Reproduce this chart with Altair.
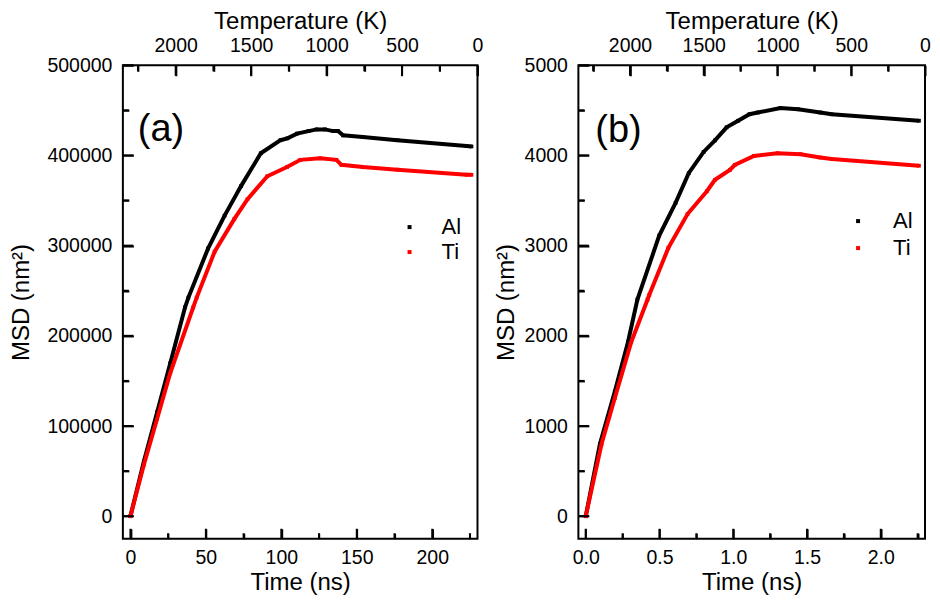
import altair as alt
import pandas as pd

FONT = "Liberation Sans"

# ---------------- data ----------------
# panel (a): time in ns, MSD in nm^2
a_al_t = [0, 8.9, 17.7, 26.4, 36.2, 38.4, 51.5, 62.4, 73.3, 86.4, 99.5, 104.0, 110.4,
          118.0, 123.4, 128.9, 134.4, 137.6, 140.9, 154.0, 176.9, 222.7, 226.0]
a_al_v = [0, 60600, 115200, 169700, 231700, 242400, 297000, 333300, 366000, 402400,
          416900, 419000, 424200, 427000, 428900, 428900, 427000, 427000, 422300,
          420500, 416900, 410400, 410000]
a_ti_t = [0, 8.9, 17.7, 26.4, 41.6, 43.9, 55.8, 68.9, 77.6, 90.7, 103.8, 112.6, 125.7,
          136.5, 139.8, 154.0, 176.9, 222.7, 226.0]
a_ti_v = [0, 57000, 108000, 158800, 231500, 242400, 293300, 329700, 351500, 376900,
          387100, 395100, 396900, 395100, 389600, 387100, 384200, 378700, 378500]

# panel (b)
b_al_t = [0, 0.096, 0.197, 0.286, 0.35, 0.498, 0.609, 0.698, 0.799, 0.876, 0.955,
          1.033, 1.11, 1.166, 1.32, 1.44, 1.59, 1.668, 2.259]
b_al_v = [0, 800, 1383, 1929, 2402, 3111, 3475, 3803, 4039, 4167, 4312, 4385, 4457,
          4476, 4525, 4512, 4476, 4457, 4385]
b_ti_t = [0, 0.107, 0.197, 0.308, 0.419, 0.431, 0.56, 0.69, 0.821, 0.876, 0.977, 1.01,
          1.14, 1.30, 1.456, 1.59, 1.668, 2.259]
b_ti_v = [0, 800, 1310, 1929, 2402, 2456, 2975, 3350, 3603, 3730, 3839, 3894, 3995,
          4025, 4014, 3977, 3960, 3886]

elements = ["Al", "Ti"]
colors = ["#000000", "#ff0000"]

# axis ticks
a_x_major = [0, 50, 100, 150, 200]
a_x_minor = [25, 75, 125, 175, 225]
a_y_major = [0, 100000, 200000, 300000, 400000, 500000]
a_y_minor = [50000, 150000, 250000, 350000, 450000]
b_x_major = [0, 0.5, 1.0, 1.5, 2.0]
b_x_minor = [0.25, 0.75, 1.25, 1.75, 2.25]
b_y_major = [0, 1000, 2000, 3000, 4000, 5000]
b_y_minor = [500, 1500, 2500, 3500, 4500]
T_major = [2000, 1500, 1000, 500, 0]
T_minor = [2250, 1750, 1250, 750, 250]

H = 474
MAJ = 10.5
MIN = 6


def inward(size):
    return {"expr": str(-size)}


def panel(al_t, al_v, ti_t, ti_v, x_dom, y_dom, T_dom, x_major, x_minor, y_major,
          y_minor, x_fmt, tag, w, h, key_x, key_lx, key_y, y_title_pad,
          tag_x, tag_y):
    df = pd.DataFrame({
        "t": al_t + ti_t,
        "v": al_v + ti_v,
        "el": ["Al"] * len(al_t) + ["Ti"] * len(ti_t),
    })
    df_al = pd.DataFrame({"t": al_t, "v": al_v})
    df_ti = pd.DataFrame({"t": ti_t, "v": ti_v})
    xs = alt.Scale(domain=x_dom, nice=False, zero=False)
    ys = alt.Scale(domain=y_dom, nice=False, zero=False)
    ts = alt.Scale(domain=T_dom, nice=False, zero=False, reverse=True)
    cs = alt.Scale(domain=elements, range=colors)

    common = dict(domain=False, grid=False, tickWidth=2, tickColor="black",
                  labelFlush=False, labelOverlap=False)
    lab = dict(labelFont=FONT, labelFontSize=19.5, labelColor="black",
               titleFont=FONT, titleFontSize=24, titleFontWeight="normal",
               titleColor="black", ticks=True, **common)

    def tick_only(orient, vals, size):
        return alt.Axis(orient=orient, values=vals, labels=False, ticks=True,
                        tickSize=inward(size), title=None, **common)

    # square markers carry the labelled axes; drawn under the lines
    pts = alt.Chart(df).mark_square(size=14, opacity=1).encode(
        x=alt.X("t:Q", scale=xs, axis=alt.Axis(
            orient="bottom", title="Time (ns)", values=x_major, format=x_fmt,
            tickSize=inward(10), labelPadding=10 + 10, titlePadding=3, **lab)),
        y=alt.Y("v:Q", scale=ys, axis=alt.Axis(
            orient="left", title="MSD (nm²)", values=y_major, format="d",
            tickSize=inward(MAJ), labelPadding=11 + MAJ,
            titlePadding=y_title_pad, **lab)),
        color=alt.Color("el:N", scale=cs, legend=None),
    )

    def series_line(data, col):
        return alt.Chart(data).mark_line(strokeWidth=4, color=col).encode(
            x=alt.X("t:Q", scale=xs, axis=None),
            y=alt.Y("v:Q", scale=ys, axis=None))

    # inward tick marks
    def xtick(vals, length, axis):
        return alt.Chart(pd.DataFrame({"t": vals})).mark_tick(
            orient="vertical", size=length, thickness=2, color="black",
            opacity=1).encode(
            x=alt.X("t:Q", scale=xs, axis=axis), y=alt.value(h - length / 2))

    def ytick(vals, length, axis):
        return alt.Chart(pd.DataFrame({"v": vals})).mark_tick(
            orient="horizontal", size=length, thickness=2, color="black",
            opacity=1).encode(
            y=alt.Y("v:Q", scale=ys, axis=axis), x=alt.value(length / 2))

    def ttick(vals, length, axis):
        return alt.Chart(pd.DataFrame({"T": vals})).mark_tick(
            orient="vertical", size=length, thickness=2, color="black",
            opacity=1).encode(
            x=alt.X("T:Q", scale=ts, axis=axis), y=alt.value(length / 2))

    top_axis = alt.Axis(orient="top", title="Temperature (K)", values=T_major,
                        format="d", tickSize=inward(MAJ), labelPadding=9.5 + MAJ,
                        titlePadding=2, **lab)

    # key (legend) entries: a small square and the element name
    def key(i):
        d = pd.DataFrame({"el": [elements[i]]})
        sym = alt.Chart(d).mark_square(size=16, color=colors[i], opacity=1).encode(
            x=alt.value(key_x), y=alt.value(key_y[i]))
        txt = alt.Chart(d).mark_text(
            font=FONT, fontSize=22, align="left", baseline="middle",
            color="black").encode(text="el:N", x=alt.value(key_lx),
                                  y=alt.value(key_y[i]))
        return [sym, txt]

    text = alt.Chart(pd.DataFrame({"s": [tag]})).mark_text(
        font=FONT, fontSize=38, align="left", baseline="alphabetic",
        color="black").encode(text="s:N", x=alt.value(tag_x), y=alt.value(tag_y))

    return alt.layer(
        pts, series_line(df_al, colors[0]), series_line(df_ti, colors[1]),
        ytick(y_major, MAJ, None), ytick(y_minor, MIN, tick_only("left", y_minor, MIN)),
        xtick(x_major, 10, None), xtick(x_minor, 5.5, tick_only("bottom", x_minor, 5.5)),
        ttick(T_major, MAJ, top_axis), ttick(T_minor, MIN, tick_only("top", T_minor, MIN)),
        *key(0), *key(1), text,
    ).resolve_scale(x="independent", y="independent").properties(width=w, height=h)


pa = panel(a_al_t, a_al_v, a_ti_t, a_ti_v, [-5, 230], [-25000, 500000], [0, 2350],
           a_x_major, a_x_minor, a_y_major, a_y_minor, "d", "(a)", 355, H,
           287, 319, [162, 187], 13, 15, 76)
pb = panel(b_al_t, b_al_v, b_ti_t, b_ti_v, [-0.05, 2.3], [-250, 5000], [0, 2350],
           b_x_major, b_x_minor, b_y_major, b_y_minor, ".1f", "(b)", 347, H,
           280, 315, [156, 183], 6, 17, 77)

chart = alt.hconcat(pa, pb, spacing=8).properties(
    padding=0
).configure(font=FONT).configure_view(stroke="black", strokeWidth=2)

chart.save("out.html", embed_options={"renderer": "svg", "actions": False})
